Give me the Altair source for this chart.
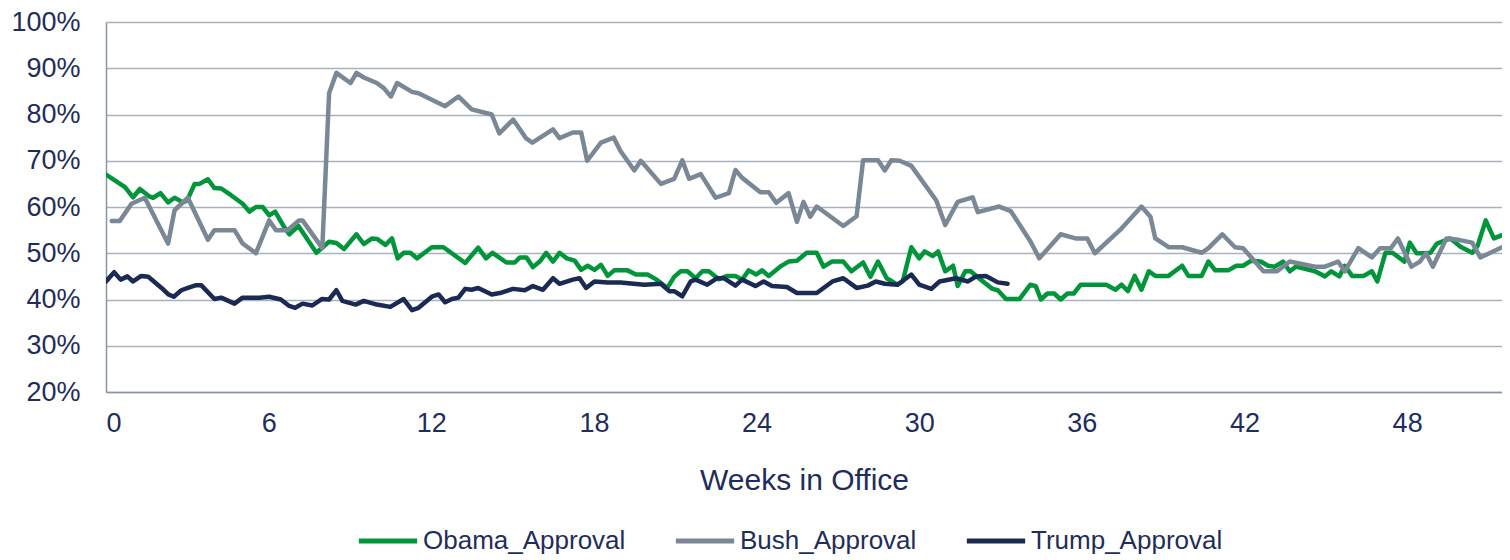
import altair as alt
import pandas as pd

series_names = ["Obama_Approval", "Bush_Approval", "Trump_Approval"]
series_colors = ["#00953B", "#7A8896", "#1B2A52"]

obama_weeks = [0, 0.7, 1.0, 1.25, 1.59, 1.74, 2.01, 2.29, 2.53, 2.84, 2.99, 3.27, 3.45, 3.76, 4.0, 4.25,
               4.6, 5.04, 5.29, 5.53, 5.78, 6.02, 6.24, 6.57, 6.76, 7.1, 7.76, 8.23, 8.5, 8.78, 9.24,
               9.51, 9.82, 10.0, 10.31, 10.55, 10.76, 10.98, 11.23, 11.47, 12.02, 12.45, 13.25, 13.73,
               14.02, 14.26, 14.77, 15.08, 15.27, 15.51, 15.75, 16.0, 16.24, 16.49, 16.73, 17.0, 17.29,
               17.53, 17.77, 18.02, 18.26, 18.51, 18.75, 19.24, 19.55, 19.98, 20.28, 20.71, 20.96, 21.2,
               21.45, 21.75, 22.0, 22.24, 22.61, 22.92, 23.22, 23.47, 23.71, 23.99, 24.2, 24.45, 24.87,
               25.18, 25.49, 25.85, 26.22, 26.47, 26.78, 27.2, 27.5, 27.93, 28.2, 28.48, 28.8, 29.2,
               29.39, 29.71, 30.0, 30.2, 30.5, 30.7, 30.96, 31.25, 31.42, 31.7, 31.9, 32.2, 32.7, 32.9,
               33.2, 33.7, 34.1, 34.3, 34.49, 34.73, 34.98, 35.22, 35.47, 35.7, 35.96, 36.9, 37.24,
               37.46, 37.7, 37.95, 38.2, 38.47, 38.71, 39.2, 39.7, 39.93, 40.42, 40.67, 40.92, 41.4,
               41.7, 41.95, 42.25, 42.6, 42.87, 43.12, 43.42, 43.67, 43.9, 44.6, 44.97, 45.2, 45.5,
               45.7, 45.97, 46.4, 46.7, 46.9, 47.2, 47.46, 47.9, 48.1, 48.35, 48.6, 48.86, 49.1, 49.6,
               49.97, 50.4, 50.6, 50.9, 51.2, 51.5]
obama_values = [67, 64.3, 62.1, 63.9, 62.3, 62, 63, 61, 62, 61, 61.4, 65, 65, 66, 64.1, 64,
                62.6, 60.7, 59, 60, 60, 58.2, 59, 55.7, 54.1, 55.9, 50.1, 52.5, 52.2, 50.9, 54.1,
                52, 53.2, 53.1, 51.8, 53.2, 48.9, 50.1, 50.1, 48.9, 51.3, 51.3, 47.9, 51.2,
                48.9, 50.1, 48, 48, 49.1, 49.1, 47, 48.2, 50.1, 48.2, 50.1, 48.9, 48.4,
                46.4, 47.3, 46.4, 47.5, 45.1, 46.3, 46.3, 45.4, 45.4, 44.4, 42.5, 44.9, 46.1,
                46.1, 44.6, 46.1, 46.1, 44.4, 45.1, 45.1, 44.3, 46.3, 45.4, 46.3, 45.1, 47.1,
                48.2, 48.4, 50.1, 50.1, 47.1, 48.2, 48.2, 46.1, 48, 44.9, 48.2, 44.6, 43.2,
                43.9, 51.3, 48.9, 50.4, 49.4, 50.4, 46.1, 47.3, 42.9, 46.1, 46.1, 44.6, 42.3, 42,
                40.1, 40.1, 43.2, 42.9, 40, 41.3, 41.3, 40, 41.3, 41.3, 43.2, 43.2, 42.1,
                43.2, 41.8, 45.1, 42.1, 46.1, 45.1, 45.1, 47.3, 45.1, 45.1, 48.2, 46.3, 46.3,
                47.3, 47.3, 48.4, 48.2, 47.3, 47.1, 48.2, 46.1, 47.1, 46.1, 45, 46.1, 45,
                47.3, 45.1, 45.1, 46.1, 43.9, 50.1, 50.1, 48.2, 52.3, 50, 50, 50.1, 52.1, 53.2,
                51.4, 50.1, 51.6, 57.1, 53.2, 53.9]

bush_weeks = [0.21, 0.51, 0.94, 1.43, 2.29, 2.53, 3.02, 3.76, 4.0, 4.74, 5.04, 5.53, 6.02, 6.27,
              6.7, 7.12, 7.25, 7.98, 8.23, 8.5, 9.02, 9.24, 9.51, 9.99, 10.25, 10.51, 10.74, 11.29,
              11.53, 12.51, 13.0, 13.49, 14.23, 14.51, 15.02, 15.49, 15.73, 16.49, 16.73, 17.22,
              17.53, 17.75, 18.26, 18.73, 18.98, 19.49, 19.73, 20.47, 20.96, 21.26, 21.51, 21.94,
              22.49, 22.98, 23.22, 23.47, 24.14, 24.45, 24.73, 25.18, 25.49, 25.73, 25.98, 26.22,
              27.2, 27.69, 27.93, 28.48, 28.73, 28.97, 29.28, 29.71, 30.63, 30.96, 31.42, 31.97,
              32.16, 32.95, 33.38, 34.11, 34.43, 35.22, 35.77, 36.2, 36.48, 37.42, 38.2, 38.53,
              38.71, 39.2, 39.7, 40.42, 40.67, 41.18, 41.65, 41.95, 42.7, 43.2, 43.67, 44.6, 44.97,
              45.45, 45.7, 46.2, 46.7, 47.0, 47.4, 47.66, 48.16, 48.47, 48.7, 48.95, 49.45, 49.9,
              50.4, 50.7, 51.5]
bush_values = [57, 57, 60.7, 62, 52.1, 59.3, 62, 52.9, 55, 55, 52.1, 50, 57.1, 55,
               55, 57.1, 57.1, 51.1, 84.6, 89, 86.8, 89, 88, 86.8, 85.7, 83.9, 86.8, 84.9,
               84.6, 81.8, 83.9, 81.1, 80, 75.9, 78.9, 74.9, 73.9, 76.8, 74.9, 76.1,
               76.1, 70, 73.9, 75, 72.1, 67.9, 70, 65, 66.1, 70.1, 66.1, 67.1,
               62, 63, 68, 66.3, 63.2, 63.2, 60.9, 63, 56.8, 61.1, 57.9, 60.1,
               55.9, 58, 70.1, 70.1, 67.9, 70.1, 70, 68.9, 61.4, 56.1, 61.1, 62.1,
               58.9, 60.1, 59.1, 52.5, 48.9, 54.1, 53.2, 53.2, 50, 55.1, 60.1, 57.9,
               53.2, 51.3, 51.3, 50.1, 51.1, 54.1, 51.3, 51.1, 46.1, 46.1, 48.2, 47.1, 47.1,
               48.2, 46.1, 51.1, 49.1, 51.1, 51.1, 53.2, 47.1, 48.2, 50, 47.1, 53.2, 52.9,
               52.3, 49.1, 51.3]

trump_weeks = [0, 0.3, 0.54, 0.79, 1.0, 1.3, 1.56, 2.05, 2.3, 2.5, 2.78, 3.02, 3.33, 3.51, 4.0,
               4.25, 4.74, 5.04, 5.66, 6.02, 6.45, 6.76, 6.98, 7.25, 7.61, 7.96, 8.23, 8.5, 8.72,
               9.21, 9.51, 9.99, 10.49, 10.98, 11.29, 11.53, 12.02, 12.27, 12.51, 12.76, 13.0,
               13.25, 13.49, 13.73, 14.23, 14.53, 15.02, 15.45, 15.75, 16.12, 16.49, 16.73, 17.22,
               17.47, 17.71, 18.02, 18.51, 18.98, 19.86, 20.47, 20.78, 20.96, 21.26, 21.57, 21.75,
               22.18, 22.55, 22.79, 23.22, 23.47, 23.96, 24.26, 24.57, 25.12, 25.49, 25.85, 26.22,
               26.8, 27.2, 27.69, 28.1, 28.4, 28.73, 29.2, 29.71, 30.0, 30.45, 30.75, 31.36, 31.8,
               32.1, 32.46, 32.9, 33.26]
trump_values = [43.9, 45.9, 44.3, 45, 43.9, 45.1, 44.9, 42.5, 41.1, 40.6, 42, 42.5, 43.1, 43.1, 40.1,
                40.4, 39.1, 40.4, 40.4, 40.6, 40, 38.6, 38.2, 39.1, 38.7, 40.1, 40, 42, 39.7,
                38.9, 39.7, 38.9, 38.4, 40.1, 37.7, 38.2, 40.6, 41.1, 39.4, 40.1, 40.4,
                42.3, 42.1, 42.5, 41.1, 41.4, 42.3, 42, 42.9, 42.1, 44.6, 43.4, 44.3,
                44.6, 42.5, 43.9, 43.7, 43.7, 43.2, 43.4, 41.8, 41.8, 40.7, 43.9, 44.3,
                43.2, 44.6, 44.6, 43, 44.3, 42.9, 43.9, 42.9, 42.7, 41.4, 41.4, 41.4,
                43.9, 44.6, 42.5, 43, 43.9, 43.4, 43.2, 45.4, 43.2, 42.3, 43.9, 44.6, 43.9,
                45, 45.1, 43.7, 43.4]

y_ticks = [20, 30, 40, 50, 60, 70, 80, 90, 100]
x_ticks = [0, 6, 12, 18, 24, 30, 36, 42, 48]

frames = []
for name, wk, vals in zip(series_names, [obama_weeks, bush_weeks, trump_weeks],
                          [obama_values, bush_values, trump_values]):
    frames.append(pd.DataFrame({"week": wk, "approval": vals, "series": name}))
df = pd.concat(frames, ignore_index=True)

navy = "#1F2D5A"
font = "Liberation Sans"

chart = alt.Chart(df).mark_line(strokeWidth=4.5, strokeJoin="round", strokeCap="round", clip=True).encode(
    x=alt.X("week:Q",
            scale=alt.Scale(domain=[0, 51.5], nice=False, zero=False),
            axis=alt.Axis(values=x_ticks, title="Weeks in Office", grid=False, ticks=False, tickSize=0,
                          labelPadding=18, titlePadding=29, labelFontSize=27, titleFontSize=30,
                          titleFontWeight="normal", labelColor=navy, titleColor=navy,
                          domainColor="#8A95A3", domainWidth=1.5, labelFont=font, titleFont=font)),
    y=alt.Y("approval:Q",
            scale=alt.Scale(domain=[20, 100], nice=False, zero=False),
            axis=alt.Axis(values=y_ticks, labelExpr="datum.value + '%'", title=None, ticks=False,
                          tickSize=0, labelPadding=26, labelFontSize=27, labelColor=navy,
                          grid=True, gridColor="#A9B1BC", gridWidth=1.5,
                          domainColor="#8A95A3", domainWidth=1.5, labelFont=font)),
    color=alt.Color("series:N",
                    scale=alt.Scale(domain=series_names, range=series_colors),
                    sort=series_names,
                    legend=alt.Legend(title=None, orient="none", legendX=250, legendY=487,
                                      direction="horizontal", symbolType="stroke", symbolSize=3400,
                                      symbolStrokeWidth=5, labelFontSize=26, labelColor=navy,
                                      labelFont=font, labelLimit=400, columnPadding=39,
                                      labelOffset=3, padding=0)),
).properties(
    width=1396, height=370,
    autosize=alt.AutoSizeParams(type="none"),
    padding={"left": 98, "top": 14, "right": 0, "bottom": 166},
).configure_view(stroke=None)

chart.save("out.html", embed_options={"renderer": "svg", "actions": False})
